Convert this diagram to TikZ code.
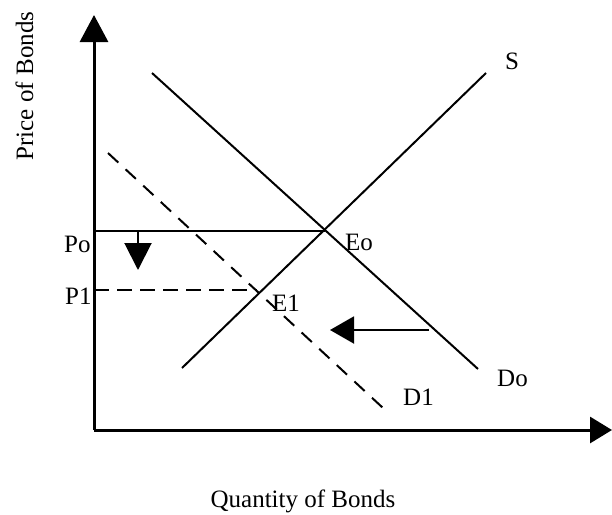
\documentclass[tikz,border=0pt]{standalone}
\usepackage{fontspec}
\setmainfont{Liberation Serif}
\usetikzlibrary{arrows.meta}
\begin{document}
\begin{tikzpicture}[x=1pt,y=-1pt,
  axis/.style={line width=3pt},
  curve/.style={line width=2pt},
  dcurve/.style={line width=2pt,dash pattern=on 14pt off 10pt},
  pdash/.style={line width=2.5pt,dash pattern=on 15pt off 8pt},
  lbl/.style={inner sep=0pt,anchor=base west,font=\fontsize{25}{29}\selectfont},
  ttl/.style={inner sep=0pt,anchor=base,font=\fontsize{25}{29}\selectfont}]
\useasboundingbox (0,0) rectangle (612,514);
% coordinates
\coordinate (O) at (94,430);
\coordinate (ytip) at (94,15);
\coordinate (xtip) at (612,430);
\coordinate (Eo) at (325,231);
\coordinate (E1) at (259,292);
\coordinate (Slo) at (182,368);
\coordinate (Shi) at (486,73);
\coordinate (Dohi) at (152,73);
\coordinate (Dolo) at (478,369);
\coordinate (D1hi) at (108,153);
\coordinate (D1lo) at (383,408);
\coordinate (Poax) at (94,231);
\coordinate (P1ax) at (94,290);
\coordinate (P1end) at (257,290);
\coordinate (dnS) at (138,231);
\coordinate (dnT) at (138,270);
\coordinate (lfS) at (429,330);
\coordinate (lfT) at (330,330);
% axes
\draw[axis,-{Triangle[length=27pt,width=28pt]}] (O) -- (ytip);
\draw[axis,-{Triangle[length=22pt,width=26pt]}] (O) -- (xtip);
% curves
\draw[curve] (Slo) -- (Shi);
\draw[curve] (Dohi) -- (Dolo);
\draw[dcurve] (D1hi) -- (D1lo);
% price lines
\draw[curve] (Poax) -- (Eo);
\draw[pdash] (P1ax) -- (P1end);
% shift arrows
\draw[curve,-{Triangle[length=27pt,width=27pt]}] (dnS) -- (dnT);
\draw[curve,-{Triangle[length=24pt,width=27pt]}] (lfS) -- (lfT);
% labels
\node[lbl] (Po) at (64,252) {Po};
\node[lbl] (P1) at (65,304) {P1};
\node[lbl] (EoL) at (345,250) {Eo};
\node[lbl] (E1L) at (272,311) {E1};
\node[lbl] (SL) at (505,69) {S};
\node[lbl] (DoL) at (497,386) {Do};
\node[lbl] (D1L) at (403,405) {D1};
\node[ttl] (qty) at (303,507) {Quantity of Bonds};
\node[ttl,rotate=90] (prc) at (33,86) {Price of Bonds};
\end{tikzpicture}
\end{document}
